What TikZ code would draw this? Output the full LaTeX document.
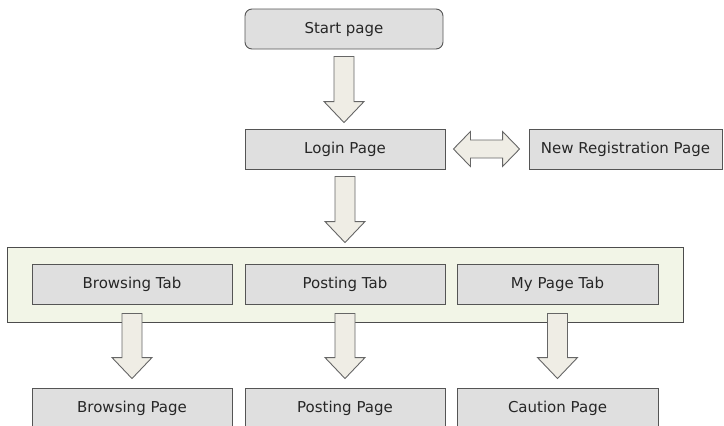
\documentclass[tikz,border=0pt]{standalone}
\usepackage{fontspec}
\setmainfont{DejaVu Sans}
\usetikzlibrary{calc}

\definecolor{boxfill}{HTML}{DFDFDF}
\definecolor{boxline}{HTML}{555555}
\definecolor{groupfill}{HTML}{F2F5E7}
\definecolor{arrowfill}{HTML}{EFEDE5}
\definecolor{arrowline}{HTML}{666666}

\tikzset{
  pagebox/.style={draw=boxline, fill=boxfill, line width=0.9pt,
    minimum height=40pt, inner sep=0pt,
    font=\fontsize{15pt}{17pt}\selectfont, text=black!85},
  groupbox/.style={draw=black!70, fill=groupfill, line width=0.9pt, inner sep=0pt},
  blockarrow/.style={draw=arrowline, fill=arrowfill, line width=0.9pt, line join=miter},
}

% Block arrow pointing down from node #1 to node #2,
% leaving gaps #3 (top) and #4 (bottom).
\newcommand\blockdown[4]{%
  \draw[blockarrow] let \p1=($(#1.south)+(0,-#3)$), \p2=($(#2.north)+(0,#4)$) in
    (\x1-10pt,\y1) -- (\x1+10pt,\y1) -- (\x1+10pt,\y2+21pt) -- (\x1+20pt,\y2+21pt)
    -- (\x1,\y2) -- (\x1-20pt,\y2+21pt) -- (\x1-10pt,\y2+21pt) -- cycle;}

\begin{document}
\begin{tikzpicture}[x=1pt,y=-1pt]
\useasboundingbox (0,0) rectangle (724,426);
\clip (0,0) rectangle (724,426);

% top of the flow
\node[pagebox, rounded corners=7pt, minimum width=198pt] (start) at (344,29) {Start page};
\node[pagebox, minimum width=200pt] (login) at (345,149) {Login Page};
\node[pagebox, minimum width=193pt] (newreg) at (625.5,149) {New Registration Page};

% tab bar group
\node[groupbox, minimum width=676pt, minimum height=75pt] (tabs) at (345,284.5) {};
\node[pagebox, minimum width=200pt] (browsetab) at (132,284) {Browsing Tab};
\node[pagebox, minimum width=200pt] (posttab) at (345,284) {Posting Tab};
\node[pagebox, minimum width=201pt] (mytab) at (557.5,284) {My Page Tab};

% destination pages
\node[pagebox, minimum width=200pt] (browsepage) at (132,408) {Browsing Page};
\node[pagebox, minimum width=200pt] (postpage) at (345,408) {Posting Page};
\node[pagebox, minimum width=201pt] (caution) at (557.5,408) {Caution Page};

% block arrows
\blockdown{start}{login}{7pt}{6pt}
\blockdown{login}{tabs}{7pt}{4pt}
\blockdown{browsetab}{browsepage}{9pt}{9pt}
\blockdown{posttab}{postpage}{9pt}{9pt}
\blockdown{mytab}{caution}{9pt}{9pt}

% two-way arrow between login and registration
\draw[blockarrow] let \p1=($(login.east)+(8pt,0)$), \p2=($(newreg.west)+(-9pt,0)$) in
  (\x1,\y1) -- (\x1+17pt,\y1+17.5pt) -- (\x1+17pt,\y1+9pt) -- (\x2-17pt,\y2+9pt)
  -- (\x2-17pt,\y2+17.5pt) -- (\x2,\y2) -- (\x2-17pt,\y2-17.5pt) -- (\x2-17pt,\y2-9pt)
  -- (\x1+17pt,\y1-9pt) -- (\x1+17pt,\y1-17.5pt) -- cycle;
\end{tikzpicture}
\end{document}
